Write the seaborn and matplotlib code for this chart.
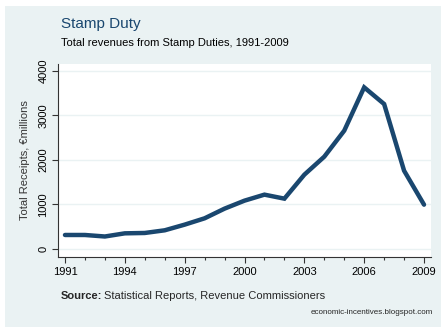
import matplotlib
matplotlib.use("Agg")
import matplotlib.pyplot as plt
from matplotlib.patches import Rectangle
from matplotlib.ticker import MultipleLocator
import seaborn as sns
import pandas as pd

years = [1991, 1992, 1993, 1994, 1995, 1996, 1997, 1998, 1999, 2000,
         2001, 2002, 2003, 2004, 2005, 2006, 2007, 2008, 2009]
receipts = [314, 314, 280, 351, 359, 419, 546, 688, 905, 1084,
            1219, 1129, 1667, 2071, 2654, 3626, 3252, 1757, 994]
x_ticks = [1991, 1994, 1997, 2000, 2003, 2006, 2009]
y_ticks = [0, 1000, 2000, 3000, 4000]

df = pd.DataFrame({"year": years, "receipts": receipts})

sns.set_theme(style="white")
plt.rcParams['font.family'] = ['Liberation Sans', 'DejaVu Sans']

BG = "#eaf2f3"
NAVY = "#1a476f"
W, H = 446, 333
fig = plt.figure(figsize=(W / 100, H / 100), dpi=100, facecolor="white")
fig.patches.append(Rectangle((5 / W, 6 / H), 436 / W, 321 / H, transform=fig.transFigure,
                             facecolor=BG, edgecolor="none", zorder=-10))

ax = fig.add_axes([58 / W, (H - 257) / H, (431 - 58) / W, (257 - 64) / H])
ax.set_facecolor("white")
sns.lineplot(data=df, x="year", y="receipts", ax=ax, color=NAVY, linewidth=3.2,
             solid_joinstyle="miter")

ax.set_xlim(1990.65, 2009.35)
ax.set_ylim(-180, 4150)
ax.set_xticks(x_ticks)
ax.xaxis.set_minor_locator(MultipleLocator(1))
ax.set_yticks(y_ticks)
ax.grid(axis="y", color=BG, linewidth=1.0)
ax.set_axisbelow(True)
for s in ["top", "right"]:
    ax.spines[s].set_visible(False)
for s in ["left", "bottom"]:
    ax.spines[s].set_color("#333333")
    ax.spines[s].set_linewidth(0.8)
ax.tick_params(axis="both", which="major", direction="out", length=4, width=0.8,
               color="#333333", labelsize=8, labelcolor="black", pad=3)
ax.tick_params(axis="x", which="minor", direction="out", length=2, width=0.8,
               color="#333333", bottom=True)
ax.tick_params(axis="x", which="major", bottom=True)
ax.tick_params(axis="y", which="major", left=True)
for lab in ax.get_yticklabels():
    lab.set_rotation(90)
    lab.set_va("center")
ax.set_xlabel("")
ax.set_ylabel("Total Receipts, €millions", fontsize=8, color="#333333", labelpad=6)

fig.text(61 / W, 1 - 24 / H, "Stamp Duty", fontsize=11, color=NAVY, va="center", ha="left")
fig.text(61 / W, 1 - 43 / H, "Total revenues from Stamp Duties, 1991-2009", fontsize=8,
         color="black", va="center", ha="left")
fig.text(61 / W, 1 - 296 / H, "Source:", fontsize=8, fontweight="bold", va="center", ha="left")
fig.text(104 / W, 1 - 296 / H, "Statistical Reports, Revenue Commissioners", fontsize=8,
         va="center", ha="left")
fig.text(433 / W, 1 - 313 / H, "economic-incentives.blogspot.com", fontsize=5.8,
         va="center", ha="right")

fig.savefig("out.png", dpi=100, facecolor="white")
